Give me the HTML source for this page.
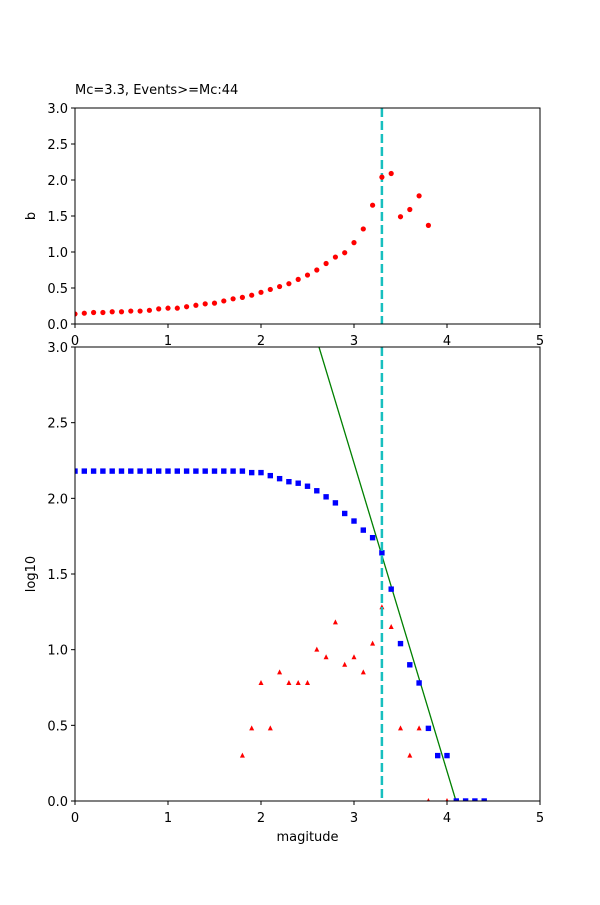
<!DOCTYPE html>
<html><head><meta charset="utf-8"><style>
html,body{margin:0;padding:0;background:#fff;}
svg text{font-family:"DejaVu Sans","Liberation Sans",sans-serif;font-size:13px;fill:#000;}
</style></head><body>
<svg id="s" width="600" height="900" xmlns="http://www.w3.org/2000/svg">
<defs>
<clipPath id="c1"><rect x="75" y="108" width="465" height="216"/></clipPath>
<clipPath id="c2"><rect x="75" y="347" width="465" height="454"/></clipPath>
</defs>
<text x="75" y="94">Mc=3.3, Events&gt;=Mc:44</text>
<g id="top"></g>
<g id="bot"></g>
</svg>
<script>
var NS="http://www.w3.org/2000/svg",s=document.getElementById('s');
function el(t,a,p,txt){var e=document.createElementNS(NS,t);for(var k in a)e.setAttribute(k,a[k]);if(txt!=null)e.textContent=txt;(p||s).appendChild(e);return e;}
function X(m){return 75+93*m;}
// top
var T=document.getElementById('top');
function Yt(v){return 324-72*v;}
var b=[0.14,0.15,0.16,0.16,0.17,0.17,0.18,0.18,0.19,0.21,0.22,0.22,0.24,0.26,0.28,0.29,0.32,0.35,0.37,0.40,0.44,0.48,0.52,0.56,0.62,0.68,0.75,0.84,0.93,0.99,1.13,1.32,1.65,2.04,2.09,1.49,1.59,1.78,1.37];
el('line',{x1:X(3.3),y1:108,x2:X(3.3),y2:324,stroke:'#17bfbf','stroke-width':2.5,'stroke-dasharray':'9,4'},T);
var gt=el('g',{'clip-path':'url(#c1)'},T);
b.forEach(function(v,i){el('circle',{cx:X(i/10),cy:Yt(v),r:2.6,fill:'#f00'},gt);});
el('rect',{x:75,y:108,width:465,height:216,fill:'none',stroke:'#000','stroke-width':1},T);
for(var i=0;i<=5;i++){el('line',{x1:X(i),y1:324,x2:X(i),y2:328,stroke:'#000'},T);el('text',{x:X(i),y:345,'text-anchor':'middle'},T,i);}
for(var j=0;j<=6;j++){var v=j*0.5,y=Yt(v);el('line',{x1:71,y1:y,x2:75,y2:y,stroke:'#000'},T);el('text',{x:68,y:y+5,'text-anchor':'end'},T,v.toFixed(1));}
el('text',{x:35,y:216,'text-anchor':'middle',transform:'rotate(-90 35 216)'},T,'b');
// bottom
var B=document.getElementById('bot');
function Yb(v){return 801-151.33*v;}
var gb=el('g',{'clip-path':'url(#c2)'},B);
var bl=[];for(i=0;i<=18;i++)bl.push(2.18);
bl=bl.concat([2.17,2.17,2.15,2.13,2.11,2.10,2.08,2.05,2.01,1.97,1.90,1.85,1.79,1.74,1.64,1.40,1.04,0.90,0.78,0.48,0.30,0.30,0,0,0,0]);
el('line',{x1:319,y1:347,x2:456,y2:801,stroke:'#008000','stroke-width':1.3},gb);
var tr=[[1.8,0.30],[1.9,0.48],[2.0,0.78],[2.1,0.48],[2.2,0.85],[2.3,0.78],[2.4,0.78],[2.5,0.78],[2.6,1.0],[2.7,0.95],[2.8,1.18],[2.9,0.90],[3.0,0.95],[3.1,0.85],[3.2,1.04],[3.3,1.28],[3.4,1.15],[3.5,0.48],[3.6,0.30],[3.7,0.48],[3.8,0],[4.0,0]];
tr.forEach(function(p){var x=X(p[0]),y=Yb(p[1]);el('polygon',{points:(x-2.5)+','+(y+2)+' '+x+','+(y-3)+' '+(x+2.5)+','+(y+2),fill:'#f00'},gb);});
bl.forEach(function(v,i){var x=X(i/10),y=Yb(v);el('rect',{x:x-2.7,y:y-2.7,width:5.4,height:5.4,fill:'#00f'},gb);});
el('line',{x1:X(3.3),y1:347,x2:X(3.3),y2:801,stroke:'#17bfbf','stroke-width':2.5,'stroke-dasharray':'9,4'},B);
el('rect',{x:75,y:347,width:465,height:454,fill:'none',stroke:'#000','stroke-width':1},B);
for(i=0;i<=5;i++){el('line',{x1:X(i),y1:801,x2:X(i),y2:805,stroke:'#000'},B);el('text',{x:X(i),y:822,'text-anchor':'middle'},B,i);}
for(j=0;j<=6;j++){v=j*0.5;y=Yb(v);el('line',{x1:71,y1:y,x2:75,y2:y,stroke:'#000'},B);el('text',{x:68,y:y+5,'text-anchor':'end'},B,v.toFixed(1));}
el('text',{x:307.5,y:841,'text-anchor':'middle'},B,'magitude');
el('text',{x:35,y:574,'text-anchor':'middle',transform:'rotate(-90 35 574)'},B,'log10');
</script>
</body></html>
